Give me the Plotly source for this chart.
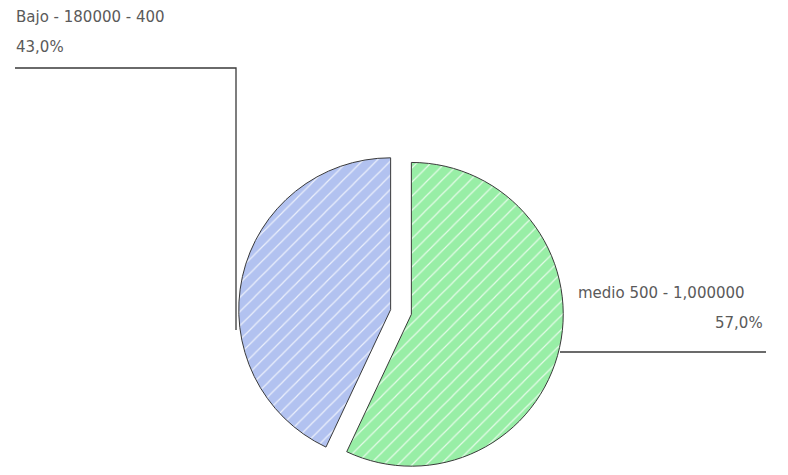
import plotly.graph_objects as go

# Data
labels = ["medio 500 - 1,000000", "Bajo - 180000 - 400"]
values = [57.0, 43.0]
pct_text = ["57,0%", "43,0%"]
colors = ["#98EEA6", "#B2C2F0"]

W, H = 788, 475

def px(x):
    return x / W

def py(y):
    return 1 - y / H

fig = go.Figure()
fig.add_trace(go.Pie(
    labels=labels,
    values=values,
    sort=False,
    direction="clockwise",
    rotation=0,
    pull=[0.07, 0.07],
    textinfo="none",
    hoverinfo="label+percent",
    marker=dict(
        colors=colors,
        line=dict(color="#3a3a3a", width=1),
        pattern=dict(shape="/", bgcolor=colors, fgcolor="rgba(255,255,255,0.75)",
                     size=10, solidity=0.12, fillmode="replace"),
    ),
    domain=dict(x=[px(238.5), px(563.5)], y=[py(474.5), py(149.5)]),
    showlegend=False,
))

font = dict(family="DejaVu Sans", size=15, color="#5a5a5a")
ann = [
    dict(x=px(14), y=py(17), text=labels[1], xanchor="left", yanchor="middle"),
    dict(x=px(14), y=py(47), text=pct_text[1], xanchor="left", yanchor="middle"),
    dict(x=px(576), y=py(293), text=labels[0], xanchor="left", yanchor="middle"),
    dict(x=px(765), y=py(323), text=pct_text[0], xanchor="right", yanchor="middle"),
]
for a in ann:
    a.update(xref="paper", yref="paper", showarrow=False, font=font)

line_style = dict(color="#3a3a3a", width=1.3)
shapes = [
    dict(type="path", xref="paper", yref="paper",
         path=f"M {px(15)},{py(68)} L {px(236)},{py(68)} L {px(236)},{py(330)}",
         line=line_style),
    dict(type="line", xref="paper", yref="paper",
         x0=px(560), y0=py(352), x1=px(766), y1=py(352), line=line_style),
]

fig.update_layout(
    width=W, height=H,
    margin=dict(l=0, r=0, t=0, b=0),
    paper_bgcolor="white",
    plot_bgcolor="white",
    annotations=ann,
    shapes=shapes,
)

fig.write_html("out.html")
